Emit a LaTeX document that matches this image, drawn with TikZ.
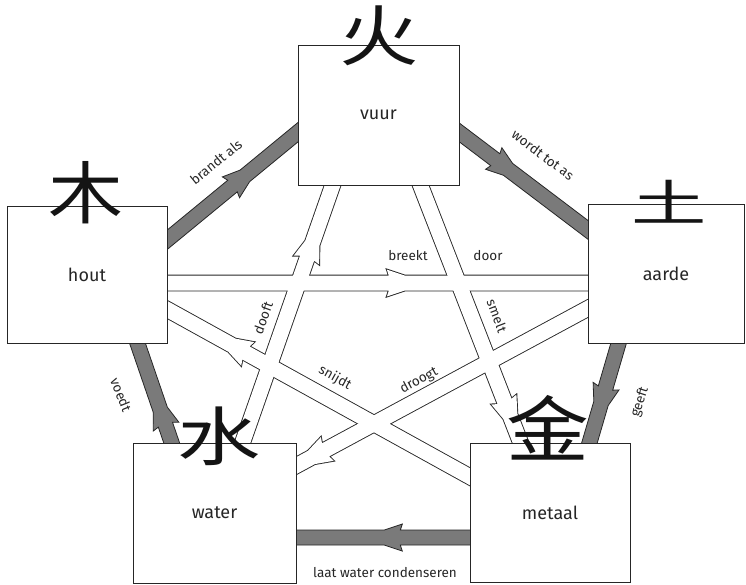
\documentclass[tikz,border=0pt]{standalone}
\usepackage{fontspec}
\setmainfont{Fira Sans}
\newfontfamily\cjk{Noto Sans CJK SC}
\usetikzlibrary{calc}

\tikzset{
  elem/.style={draw=black!85, line width=0.9pt, fill=white, inner sep=0pt,
    font=\fontsize{18}{21}\selectfont, text=black!85},
  lbl/.style={font=\fontsize{13.5}{16}\selectfont, text=black!85, inner sep=0pt},
  glyph/.style={font={\cjk\fontsize{#1}{#1}\selectfont}, text=black!92, inner sep=0pt},
  outerband/.style={draw=black!85, line width=0.8pt, fill=black!52, line join=miter},
  innerline/.style={draw=black!85, line width=1.8pt, line join=miter},
  innerfill/.style={fill=white},
}

% A straight band from #1 to #2 with a flared head at fraction #3, drawn with options #4
\newcommand\bandshape[4]{%
  \coordinate (bA) at ($(#1)!-12pt!(#2)$);
  \coordinate (bB) at ($(#2)!-12pt!(#1)$);
  \coordinate (bH) at ($(#1)!#3!(#2)$);
  \coordinate (bR) at ($(bH)!-2pt!(#2)$);
  \coordinate (bT) at ($(bH)!16pt!(#2)$);
  \path[#4] ($(bA)!7.5pt!90:(bB)$) -- ($(bH)!7.5pt!90:(bB)$) -- ($(bR)!13.5pt!90:(bB)$)
    -- ($(bT)!7.5pt!90:(bB)$) -- ($(bB)!7.5pt!-90:(bA)$) -- ($(bB)!7.5pt!90:(bA)$)
    -- ($(bT)!7.5pt!-90:(bB)$) -- ($(bR)!13.5pt!-90:(bB)$) -- ($(bH)!7.5pt!-90:(bB)$)
    -- ($(bA)!7.5pt!-90:(bB)$) -- cycle;
}

\begin{document}
\begin{tikzpicture}[x=1pt, y=-1pt]
\useasboundingbox (0,0) rectangle (746,585);

% element boxes (placed first so the band ends can refer to them)
\path
  node[elem, minimum width=161, minimum height=140] (vuur) at (378.5,115) {}
  node[elem, minimum width=160, minimum height=137] (hout) at (87,274.5) {}
  node[elem, minimum width=156, minimum height=139] (aarde) at (666,273.5) {}
  node[elem, minimum width=163, minimum height=140] (water) at (214.5,513) {}
  node[elem, minimum width=160, minimum height=139] (metaal) at (550,512.5) {};

% band end points on the box edges
\coordinate (hv-a) at ($(hout.north east)+(0,34)$);
\coordinate (hv-b) at ($(vuur.north west)+(0,88)$);
\coordinate (va-a) at ($(vuur.north east)+(0,88)$);
\coordinate (va-b) at ($(aarde.north west)+(0,26)$);
\coordinate (am-a) at ($(aarde.south west)+(31,0)$);
\coordinate (am-b) at ($(metaal.north west)+(120,0)$);
\coordinate (mw-a) at ($(metaal.north west)+(0,95)$);
\coordinate (mw-b) at ($(water.north east)+(0,95)$);
\coordinate (wh-a) at ($(water.north west)+(39,0)$);
\coordinate (wh-b) at ($(hout.south west)+(131,0)$);
\coordinate (ha-a) at ($(hout.north east)+(0,77.5)$);
\coordinate (ha-b) at ($(aarde.north west)+(0,79.5)$);
\coordinate (vm-a) at ($(vuur.south west)+(123,0)$);
\coordinate (vm-b) at ($(metaal.north west)+(51,0)$);
\coordinate (mh-a) at ($(metaal.north west)+(0,34)$);
\coordinate (mh-b) at ($(hout.north east)+(0,104)$);
\coordinate (aw-a) at ($(aarde.north west)+(0,105)$);
\coordinate (aw-b) at ($(water.north east)+(0,23)$);
\coordinate (wv-a) at ($(water.north west)+(110,0)$);
\coordinate (wv-b) at ($(vuur.south west)+(35,0)$);

% outer cycle: dark bands
\bandshape{hv-a}{hv-b}{0.5}{outerband}
\bandshape{va-a}{va-b}{0.28}{outerband}
\bandshape{am-a}{am-b}{0.45}{outerband}
\bandshape{mw-a}{mw-b}{0.4}{outerband}
\bandshape{wh-a}{wh-b}{0.18}{outerband}

% inner star: outlines first, then white fills so the crossings merge
\bandshape{ha-a}{ha-b}{0.527}{innerline}
\bandshape{vm-a}{vm-b}{0.84}{innerline}
\bandshape{mh-a}{mh-b}{0.74}{innerline}
\bandshape{aw-a}{aw-b}{0.9}{innerline}
\bandshape{wv-a}{wv-b}{0.717}{innerline}
\bandshape{ha-a}{ha-b}{0.527}{innerfill}
\bandshape{vm-a}{vm-b}{0.84}{innerfill}
\bandshape{mh-a}{mh-b}{0.74}{innerfill}
\bandshape{aw-a}{aw-b}{0.9}{innerfill}
\bandshape{wv-a}{wv-b}{0.717}{innerfill}

% boxes again on top of the band ends, with their names
\node[elem, minimum width=161, minimum height=140] at (vuur) {vuur};
\node[elem, minimum width=160, minimum height=137] at (hout) {hout};
\node[elem, minimum width=156, minimum height=139] at (aarde) {aarde};
\node[elem, minimum width=163, minimum height=140] at (water) {water};
\node[elem, minimum width=160, minimum height=139] at (metaal) {metaal};

% characters
\node[glyph=66] (c-vuur) at (379,36) {\scalebox{1.2}[1]{火}};
\node[glyph=68] (c-hout) at (86,193) {\scalebox{1.1}[1]{木}};
\node[glyph=58] (c-aarde) at (669,202) {\scalebox{1.3}[0.85]{土}};
\node[glyph=64] (c-water) at (219,436) {\scalebox{1.3}[1]{水}};
\node[glyph=72] (c-metaal) at (548,428) {\scalebox{1.15}[1]{金}};

% relation labels
\node[lbl, rotate=39] (l-hv) at (216,162) {brandt als};
\node[lbl, rotate=-37] (l-va) at (543,155) {wordt tot as};
\node[lbl, rotate=72] (l-am) at (640,402) {geeft};
\node[lbl] (l-mw) at (385,573) {laat water condenseren};
\node[lbl, rotate=-68] (l-wh) at (121,395) {voedt};
\node[lbl] (l-ha1) at (408,256) {breekt};
\node[lbl] (l-ha2) at (488,256) {door};
\node[lbl, rotate=70] (l-wv) at (263,318) {dooft};
\node[lbl, rotate=-69] (l-vm) at (497,316) {smelt};
\node[lbl, rotate=-29] (l-mh) at (335,378) {snijdt};
\node[lbl, rotate=28] (l-aw) at (419,381) {droogt};
\end{tikzpicture}
\end{document}
